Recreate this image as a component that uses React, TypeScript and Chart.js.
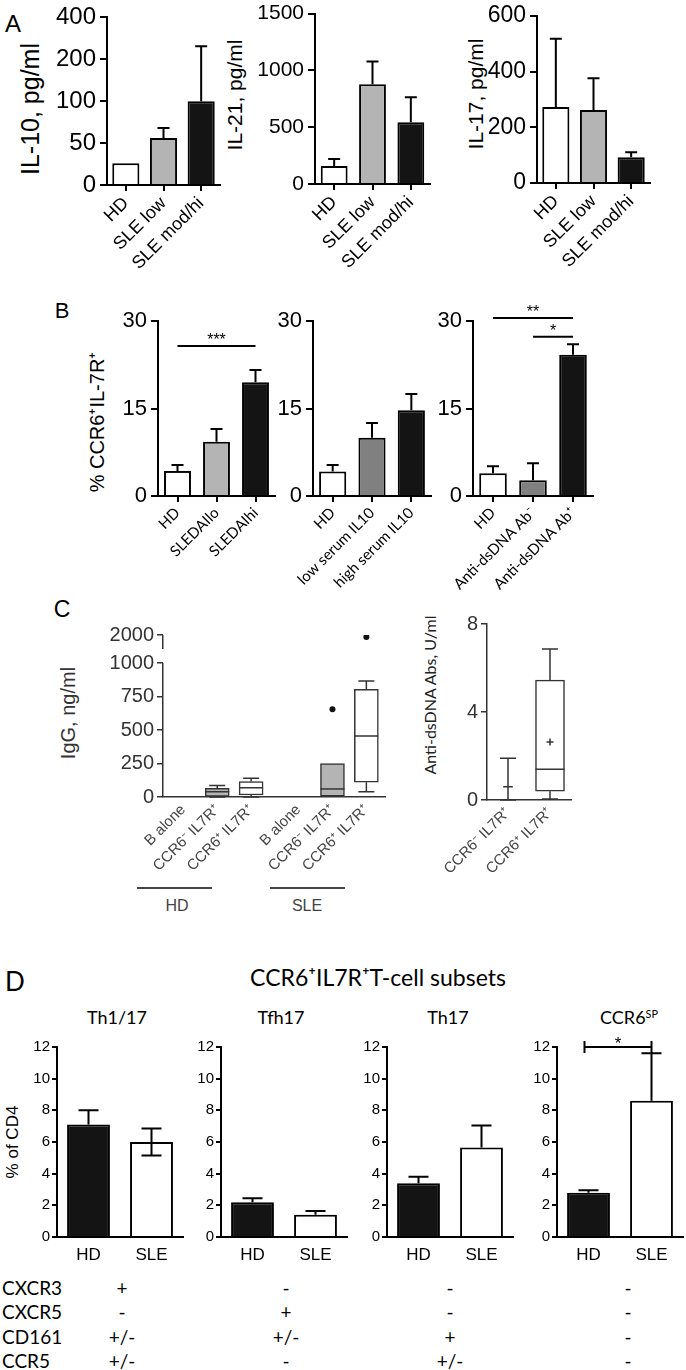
import React, { useEffect, useRef } from 'react';
import { Chart, registerables } from 'chart.js';

Chart.register(...registerables);

const ARIAL = '"Liberation Sans", Arial, Helvetica, sans-serif';
const CALIBRI = 'Lato, "Noto Sans", sans-serif';
Chart.defaults.font.family = ARIAL;
Chart.defaults.color = '#000';

// ---------------- DATA ----------------
// Panel A (serum cytokines)
const A_GROUPS = ['HD', 'SLE low', 'SLE mod/hi'];
const IL10_TICKS = [0, 50, 100, 200, 400];
const IL10_MEAN = [26, 56, 100];
const IL10_UPPER = [null, 68, 262];
const IL21_TICKS = [0, 500, 1000, 1500];
const IL21_MEAN = [158, 877, 544];
const IL21_UPPER = [219, 1079, 763];
const IL17_TICKS = [0, 200, 400, 600];
const IL17_MEAN = [273, 262, 92];
const IL17_UPPER = [518, 376, 110];

// Panel B (% CCR6+IL-7R+)
const B_TICKS = [0, 15, 30];
const SLEDAI_GROUPS = ['HD', 'SLEDAIlo', 'SLEDAIhi'];
const SLEDAI_MEAN = [4.3, 9.3, 19.5];
const SLEDAI_UPPER = [5.3, 11.5, 21.6];
const SERUM_GROUPS = ['HD', 'low serum IL10', 'high serum IL10'];
const SERUM_MEAN = [4.2, 10.0, 14.7];
const SERUM_UPPER = [5.3, 12.5, 17.5];
const DSDNA_GROUPS = ['HD', 'Anti-dsDNA Ab⁻', 'Anti-dsDNA Ab⁺'];
const DSDNA_MEAN = [3.9, 2.7, 24.2];
const DSDNA_UPPER = [5.1, 5.6, 26.0];

// Panel C (box plots)
const IGG_GROUPS = ['B alone', 'CCR6⁻ IL7R⁺', 'CCR6⁺ IL7R⁺', 'B alone', 'CCR6⁻ IL7R⁺', 'CCR6⁺ IL7R⁺'];
const IGG_TICKS = [0, 250, 500, 750, 1000, 2000];
const IGG_MIN = [null, 0, 0, null, 0, 40];
const IGG_Q1 = [null, 5, 15, null, 0, 110];
const IGG_MED = [null, 40, 70, null, 60, 455];
const IGG_Q3 = [null, 65, 115, null, 250, 805];
const IGG_MAX = [null, 85, 140, null, 250, 866];
const IGG_OUTLIER_GROUP = [4, 5];
const IGG_OUTLIER_VALUE = [655, 1930];

const DS_GROUPS = ['CCR6⁻ IL7R⁺', 'CCR6⁺ IL7R⁺'];
const DS_TICKS = [0, 4, 8];
const DS_MIN = [0, 0.05];
const DS_Q1 = [0.6, 0.4];
const DS_MED = [0.6, 1.4];
const DS_Q3 = [0.6, 5.45];
const DS_MAX = [1.9, 6.86];
const DS_MEAN = [null, 2.64];

// Panel D (T-cell subsets, % of CD4)
const D_GROUPS = ['HD', 'SLE'];
const D_TICKS = [0, 2, 4, 6, 8, 10, 12];
const TH117_MEAN = [7.1, 6.0];
const TH117_UPPER = [8.0, 6.85];
const TH117_LOWER = [null, 5.15];
const TFH17_MEAN = [2.2, 1.4];
const TFH17_UPPER = [2.45, 1.65];
const TH17_MEAN = [3.4, 5.65];
const TH17_UPPER = [3.8, 7.05];
const CCR6SP_MEAN = [2.8, 8.6];
const CCR6SP_UPPER = [2.95, 11.6];
const MARKERS = ['CXCR3', 'CXCR5', 'CD161', 'CCR5'];
const TH117_MARKERS = ['+', '-', '+/-', '+/-'];
const TFH17_MARKERS = ['-', '+', '+/-', '-'];
const TH17_MARKERS = ['-', '-', '+', '+/-'];
const CCR6SP_MARKERS = ['-', '-', '-', '-'];

// ---------------- STYLE / LAYOUT ----------------
const WHITE = '#ffffff';
const LIGHT = '#b4b4b4';
const MID = '#808080';
const BLACK = '#141414';
const C1_SLOTS = [0.6, 1.6, 2.6, 4.0, 5.0, 6.0];
const C1_XMAX = 6.55;
const IGG_BREAK = 0.21;

function segPos(ticks: number[], v: number) {
  for (let i = 0; i < ticks.length - 1; i++) {
    if (v <= ticks[i + 1]) return i + (v - ticks[i]) / (ticks[i + 1] - ticks[i]);
  }
  return ticks.length - 1;
}
function iggPos(v: number) {
  return v <= 1000 ? v : 1000 + (v - 1000) * IGG_BREAK;
}

// ---------------- PLUGINS ----------------
const errorBars = {
  id: 'errorBars',
  afterDatasetsDraw(chart: any) {
    const { ctx } = chart;
    chart.data.datasets.forEach((ds: any, di: number) => {
      if (!ds.upper && !ds.lower) return;
      const meta = chart.getDatasetMeta(di);
      const ys = chart.scales[meta.yAxisID];
      ctx.save();
      ctx.strokeStyle = '#000';
      ctx.lineWidth = ds.errWidth || 2;
      meta.data.forEach((el: any, i: number) => {
        [ds.upper && ds.upper[i], ds.lower && ds.lower[i]].forEach((v: any) => {
          if (v == null) return;
          const y1 = ys.getPixelForValue(v);
          const c = (ds.capWidth || 12) / 2;
          ctx.beginPath();
          ctx.moveTo(el.x, el.y);
          ctx.lineTo(el.x, y1);
          ctx.moveTo(el.x - c, y1);
          ctx.lineTo(el.x + c, y1);
          ctx.stroke();
        });
      });
      ctx.restore();
    });
  },
};

const boxWhiskers = {
  id: 'boxWhiskers',
  afterDatasetsDraw(chart: any) {
    const { ctx } = chart;
    chart.data.datasets.forEach((ds: any, di: number) => {
      if (!ds.box) return;
      const meta = chart.getDatasetMeta(di);
      const ys = chart.scales[meta.yAxisID];
      ctx.save();
      ctx.strokeStyle = ds.borderColor;
      ctx.lineWidth = ds.borderWidth;
      meta.data.forEach((el: any, i: number) => {
        const b = ds.box[i];
        if (!b) return;
        const c = ds.capWidth / 2;
        const pq1 = ys.getPixelForValue(b.q1);
        const pq3 = ys.getPixelForValue(b.q3);
        const hw = Math.abs(pq1 - pq3) < 1 ? c * 0.6 : el.width / 2;
        const pmin = ys.getPixelForValue(b.min);
        const pmax = ys.getPixelForValue(b.max);
        const pmed = ys.getPixelForValue(b.med);
        ctx.beginPath();
        ctx.moveTo(el.x - hw, pmed);
        ctx.lineTo(el.x + hw, pmed);
        if (pmax < pq3 - 0.5) {
          ctx.moveTo(el.x, pq3);
          ctx.lineTo(el.x, pmax);
          ctx.moveTo(el.x - c, pmax);
          ctx.lineTo(el.x + c, pmax);
        }
        if (pmin > pq1 + 0.5) {
          ctx.moveTo(el.x, pq1);
          ctx.lineTo(el.x, pmin);
          ctx.moveTo(el.x - c, pmin);
          ctx.lineTo(el.x + c, pmin);
        }
        if (b.mean != null) {
          const pm = ys.getPixelForValue(b.mean);
          ctx.moveTo(el.x - 3.5, pm);
          ctx.lineTo(el.x + 3.5, pm);
          ctx.moveTo(el.x, pm - 3.5);
          ctx.lineTo(el.x, pm + 3.5);
        }
        ctx.stroke();
      });
      ctx.restore();
    });
  },
};

const sigLines = {
  id: 'sigLines',
  afterDraw(chart: any, _a: any, opts: any) {
    const items = opts && opts.items;
    if (!items || !items.length) return;
    const { ctx } = chart;
    const xs = chart.scales.x;
    const ys = chart.scales.y;
    ctx.save();
    ctx.strokeStyle = '#000';
    ctx.fillStyle = '#000';
    ctx.lineWidth = opts.width || 2;
    ctx.font = `${opts.fontSize || 16}px ${ARIAL}`;
    ctx.textAlign = 'center';
    ctx.textBaseline = 'alphabetic';
    items.forEach((it: any) => {
      const x1 = xs.getPixelForValue(it.from) + (it.dx1 || 0);
      const x2 = xs.getPixelForValue(it.to) + (it.dx2 || 0);
      const y = ys.getPixelForValue(it.y);
      ctx.beginPath();
      ctx.moveTo(x1, y);
      ctx.lineTo(x2, y);
      if (it.ends) {
        ctx.moveTo(x1, y - it.ends);
        ctx.lineTo(x1, y + it.ends);
        ctx.moveTo(x2, y - it.ends);
        ctx.lineTo(x2, y + it.ends);
      }
      ctx.stroke();
      ctx.fillText(it.text, (x1 + x2) / 2, y + (it.textDy || 0));
    });
    ctx.restore();
  },
};

const axisBreak = {
  id: 'axisBreak',
  afterDraw(chart: any, _a: any, opts: any) {
    if (!opts || !opts.segments) return;
    const { ctx, chartArea } = chart;
    const ys = chart.scales.y;
    ctx.save();
    ctx.strokeStyle = opts.color || '#000';
    ctx.lineWidth = opts.width || 1.5;
    const x = Math.round(chartArea.left) - 0.25;
    opts.segments.forEach((s: number[]) => {
      ctx.beginPath();
      ctx.moveTo(x, ys.getPixelForValue(s[0]));
      ctx.lineTo(x, ys.getPixelForValue(s[1]));
      ctx.stroke();
    });
    ctx.restore();
  },
};

Chart.register(errorBars, boxWhiskers, sigLines, axisBreak);

// ---------------- CONFIG BUILDERS ----------------
type Place = { l: number; t: number; r: number; b: number; yW: number; xH: number; padT: number; padR: number };

function canvasBox(p: Place) {
  const left = p.l - p.yW;
  const top = p.t - p.padT;
  return { left, top, width: p.r + p.padR - left, height: p.b + p.xH - top };
}

function baseOptions(p: Place) {
  return {
    responsive: false,
    maintainAspectRatio: false,
    animation: false,
    events: [],
    layout: { padding: { top: p.padT, right: p.padR, left: 0, bottom: 0 } },
  };
}

function barConfig(p: Place, o: any) {
  return {
    type: 'bar',
    data: {
      labels: o.labels,
      datasets: [
        {
          data: o.values,
          backgroundColor: o.colors,
          borderColor: '#000',
          borderWidth: o.lw,
          barPercentage: o.barPct,
          categoryPercentage: 1,
          upper: o.upper,
          lower: o.lower,
          capWidth: o.cap,
          errWidth: o.lw,
        },
      ],
    },
    options: {
      ...baseOptions(p),
      plugins: {
        legend: { display: false },
        tooltip: { enabled: false },
        sigLines: { items: o.sig || [], width: o.lw, fontSize: o.sigFont || 16 },
      },
      scales: {
        x: {
          type: 'category',
          offset: true,
          z: 1,
          grid: {
            display: o.xTickLen > 0,
            drawOnChartArea: false,
            drawTicks: o.xTickLen > 0,
            offset: false,
            tickLength: o.xTickLen,
            color: '#000',
            lineWidth: o.lw,
          },
          border: { display: true, color: '#000', width: o.lw },
          ticks: {
            autoSkip: false,
            minRotation: o.rotation,
            maxRotation: o.rotation,
            padding: o.xTickPad,
            color: '#000',
            font: { family: o.xFamily || ARIAL, size: o.xFont },
          },
          afterFit: (s: any) => {
            s.height = p.xH;
          },
        },
        y: {
          type: 'linear',
          min: o.min,
          max: o.max,
          z: 1,
          grid: { drawOnChartArea: false, tickLength: o.yTickLen, color: '#000', lineWidth: o.lw },
          border: { display: true, color: '#000', width: o.lw },
          ticks: {
            padding: o.yTickPad,
            color: '#000',
            font: { family: ARIAL, size: o.yFont },
            callback: (v: any, i: number) => (o.tickLabels ? o.tickLabels[i] : String(v)),
          },
          afterBuildTicks: (s: any) => {
            s.ticks = o.ticks.map((v: number) => ({ value: v }));
          },
          afterFit: (s: any) => {
            s.width = p.yW;
          },
        },
      },
    },
  };
}

function boxScales(p: Place, o: any) {
  return {
    x: o.x,
    y: {
      type: 'linear',
      min: o.min,
      max: o.max,
      z: 1,
      grid: { drawOnChartArea: false, tickLength: 6, color: '#333', lineWidth: 1.5 },
      border: { display: o.border, color: '#333', width: 1.5 },
      ticks: {
        padding: 3,
        color: '#333',
        font: { family: ARIAL, size: 20 },
        callback: (v: any, i: number) => o.tickLabels[i],
      },
      afterBuildTicks: (s: any) => {
        s.ticks = o.ticks.map((v: number) => ({ value: v }));
      },
      afterFit: (s: any) => {
        s.width = p.yW;
      },
    },
  };
}

// ---------------- PLACEMENTS ----------------
const P_A1: Place = { l: 107, t: 15, r: 220, b: 185, yW: 70, xH: 90, padT: 16, padR: 10 };
const P_A2: Place = { l: 315, t: 13, r: 430, b: 184, yW: 70, xH: 90, padT: 16, padR: 10 };
const P_A3: Place = { l: 537, t: 14, r: 650, b: 183, yW: 70, xH: 90, padT: 16, padR: 10 };
const P_B1: Place = { l: 158, t: 321, r: 275, b: 496, yW: 75, xH: 110, padT: 30, padR: 10 };
const P_B2: Place = { l: 313, t: 321, r: 431, b: 496, yW: 75, xH: 110, padT: 30, padR: 10 };
const P_B3: Place = { l: 473, t: 321, r: 593, b: 496, yW: 75, xH: 110, padT: 30, padR: 10 };
const P_C1: Place = { l: 163, t: 635, r: 385, b: 797, yW: 75, xH: 85, padT: 20, padR: 10 };
const P_C2: Place = { l: 487, t: 624, r: 571, b: 800, yW: 60, xH: 85, padT: 20, padR: 10 };
const P_D1: Place = { l: 57, t: 1047, r: 183, b: 1237, yW: 45, xH: 40, padT: 25, padR: 3 };
const P_D2: Place = { l: 221, t: 1047, r: 347, b: 1237, yW: 45, xH: 40, padT: 25, padR: 3 };
const P_D3: Place = { l: 387, t: 1047, r: 513, b: 1237, yW: 45, xH: 40, padT: 25, padR: 3 };
const P_D4: Place = { l: 557, t: 1047, r: 683, b: 1237, yW: 45, xH: 40, padT: 25, padR: 3 };

const A_STYLE = { lw: 2, cap: 12, rotation: 45, xFont: 18, xTickLen: 6, xTickPad: 2, yTickLen: 7, yTickPad: 4 };
const B_STYLE = { lw: 2, cap: 12, rotation: 45, xFont: 15, xFamily: CALIBRI, xTickLen: 6, xTickPad: 2, yTickLen: 7, yTickPad: 4, yFont: 22, min: 0, max: 30, ticks: B_TICKS, barPct: 0.69 };
const D_STYLE = { lw: 2, cap: 20, rotation: 0, xFont: 17, xTickLen: 0, xTickPad: 8, yTickLen: 5, yTickPad: 2, yFont: 15, min: 0, max: 12, ticks: D_TICKS, barPct: 0.68, labels: D_GROUPS, colors: [BLACK, WHITE] };

const cfgA1 = () =>
  barConfig(P_A1, {
    ...A_STYLE,
    labels: A_GROUPS,
    values: IL10_MEAN.map((v) => segPos(IL10_TICKS, v)),
    upper: IL10_UPPER.map((v) => (v == null ? null : segPos(IL10_TICKS, v))),
    colors: [WHITE, LIGHT, BLACK],
    min: 0,
    max: IL10_TICKS.length - 1,
    ticks: IL10_TICKS.map((_, i) => i),
    tickLabels: IL10_TICKS.map(String),
    yFont: 24,
    barPct: 0.72,
  });
const cfgA2 = () =>
  barConfig(P_A2, {
    ...A_STYLE,
    labels: A_GROUPS,
    values: IL21_MEAN,
    upper: IL21_UPPER,
    colors: [WHITE, LIGHT, BLACK],
    min: 0,
    max: 1500,
    ticks: IL21_TICKS,
    yFont: 21,
    barPct: 0.7,
  });
const cfgA3 = () =>
  barConfig(P_A3, {
    ...A_STYLE,
    labels: A_GROUPS,
    values: IL17_MEAN,
    upper: IL17_UPPER,
    colors: [WHITE, LIGHT, BLACK],
    min: 0,
    max: 600,
    ticks: IL17_TICKS,
    yFont: 23,
    barPct: 0.72,
  });

const cfgB1 = () =>
  barConfig(P_B1, {
    ...B_STYLE,
    labels: SLEDAI_GROUPS,
    values: SLEDAI_MEAN,
    upper: SLEDAI_UPPER,
    colors: [WHITE, LIGHT, BLACK],
    sig: [{ from: 0, to: 2, y: 25.7, text: '***', textDy: -1 }],
  });
const cfgB2 = () =>
  barConfig(P_B2, {
    ...B_STYLE,
    labels: SERUM_GROUPS,
    values: SERUM_MEAN,
    upper: SERUM_UPPER,
    colors: [WHITE, MID, BLACK],
  });
const cfgB3 = () =>
  barConfig(P_B3, {
    ...B_STYLE,
    labels: DSDNA_GROUPS,
    values: DSDNA_MEAN,
    upper: DSDNA_UPPER,
    colors: [WHITE, MID, BLACK],
    sig: [
      { from: 0, to: 2, y: 30.5, text: '**', textDy: -1 },
      { from: 1, to: 2, y: 27.3, text: '*', textDy: -1 },
    ],
  });

const cfgD1 = () => barConfig(P_D1, { ...D_STYLE, values: TH117_MEAN, upper: TH117_UPPER, lower: TH117_LOWER });
const cfgD2 = () => barConfig(P_D2, { ...D_STYLE, values: TFH17_MEAN, upper: TFH17_UPPER });
const cfgD3 = () => barConfig(P_D3, { ...D_STYLE, values: TH17_MEAN, upper: TH17_UPPER });
const cfgD4 = () =>
  barConfig(P_D4, {
    ...D_STYLE,
    values: CCR6SP_MEAN,
    upper: CCR6SP_UPPER,
    sigFont: 17,
    sig: [{ from: 0, to: 1, y: 12, text: '*', ends: 6, textDy: 2, dx1: -4 }],
  });

const cfgC1 = () => {
  const idx = IGG_GROUPS.map((_, i) => i).filter((i) => IGG_Q1[i] != null);
  return {
    type: 'bar',
    data: {
      datasets: [
        {
          type: 'bar',
          data: idx.map((i) => ({ x: C1_SLOTS[i], y: [iggPos(IGG_Q1[i] as number), iggPos(IGG_Q3[i] as number)] })),
          backgroundColor: idx.map((i) => (IGG_GROUPS[i].startsWith('CCR6⁻') ? LIGHT : WHITE)),
          borderColor: '#333',
          borderWidth: 1.5,
          borderSkipped: false,
          barThickness: 24,
          capWidth: 16,
          box: idx.map((i) => ({
            min: iggPos(IGG_MIN[i] as number),
            q1: iggPos(IGG_Q1[i] as number),
            med: iggPos(IGG_MED[i] as number),
            q3: iggPos(IGG_Q3[i] as number),
            max: iggPos(IGG_MAX[i] as number),
          })),
        },
        {
          type: 'scatter',
          data: IGG_OUTLIER_GROUP.map((g, k) => ({ x: C1_SLOTS[g], y: iggPos(IGG_OUTLIER_VALUE[k]) })),
          pointRadius: 3,
          backgroundColor: '#111',
          borderColor: '#111',
          borderWidth: 0,
        },
      ],
    },
    options: {
      ...baseOptions(P_C1),
      plugins: {
        legend: { display: false },
        tooltip: { enabled: false },
        axisBreak: { segments: [[0, 1000], [1105, iggPos(2000)]], color: '#333', width: 1.5 },
      },
      scales: boxScales(P_C1, {
        min: 0,
        max: iggPos(2000),
        ticks: IGG_TICKS.map(iggPos),
        tickLabels: IGG_TICKS.map(String),
        border: false,
        x: {
          type: 'linear',
          min: 0,
          max: C1_XMAX,
          offset: false,
          z: 1,
          grid: { display: false, drawTicks: false, offset: false },
          border: { display: true, color: '#333', width: 1.5 },
          ticks: {
            autoSkip: false,
            minRotation: 45,
            maxRotation: 45,
            padding: 4,
            color: '#444',
            font: { family: ARIAL, size: 15 },
            callback: (_v: any, i: number) => IGG_GROUPS[i],
          },
          afterBuildTicks: (s: any) => {
            s.ticks = C1_SLOTS.map((v) => ({ value: v }));
          },
          afterFit: (s: any) => {
            s.height = P_C1.xH;
          },
        },
      }),
    },
  };
};

const cfgC2 = () => ({
  type: 'bar',
  data: {
    labels: DS_GROUPS,
    datasets: [
      {
        data: DS_GROUPS.map((_, i) => [DS_Q1[i], DS_Q3[i]]),
        backgroundColor: WHITE,
        borderColor: '#333',
        borderWidth: 1.5,
        borderSkipped: false,
        barThickness: 29,
        capWidth: 16,
        box: DS_GROUPS.map((_, i) => ({ min: DS_MIN[i], q1: DS_Q1[i], med: DS_MED[i], q3: DS_Q3[i], max: DS_MAX[i], mean: DS_MEAN[i] })),
      },
    ],
  },
  options: {
    ...baseOptions(P_C2),
    plugins: { legend: { display: false }, tooltip: { enabled: false } },
    scales: boxScales(P_C2, {
      min: 0,
      max: 8,
      ticks: DS_TICKS,
      tickLabels: DS_TICKS.map(String),
      border: true,
      x: {
        type: 'category',
        offset: true,
        z: 1,
        grid: { display: false, drawTicks: false, offset: false },
        border: { display: true, color: '#333', width: 1.5 },
        ticks: {
          autoSkip: false,
          minRotation: 45,
          maxRotation: 45,
          padding: 4,
          color: '#444',
          font: { family: ARIAL, size: 15 },
        },
        afterFit: (s: any) => {
          s.height = P_C2.xH;
        },
      },
    }),
  },
});

// ---------------- COMPONENTS ----------------
function ChartCanvas({ place, config }: { place: Place; config: () => any }) {
  const ref = useRef<HTMLCanvasElement>(null);
  const box = canvasBox(place);
  useEffect(() => {
    const chart = new Chart(ref.current as HTMLCanvasElement, config());
    return () => chart.destroy();
  }, []);
  return (
    <div style={{ position: 'absolute', left: box.left, top: box.top, width: box.width, height: box.height }}>
      <canvas ref={ref} width={box.width} height={box.height} style={{ width: box.width, height: box.height, display: 'block' }} />
    </div>
  );
}

function Txt({ x, y, size, family = ARIAL, rot = 0, color = '#000', children }: any) {
  return (
    <div
      style={{
        position: 'absolute',
        left: x,
        top: y,
        transform: `translate(-50%, -50%) rotate(${rot}deg)`,
        fontSize: size,
        fontFamily: family,
        lineHeight: 1,
        whiteSpace: 'nowrap',
        color,
      }}
    >
      {children}
    </div>
  );
}

function HLine({ x1, x2, y, color = '#444', w = 1.5 }: any) {
  return <div style={{ position: 'absolute', left: x1, top: y - w / 2, width: x2 - x1, height: w, background: color }} />;
}

const TABLE_COLS = [TH117_MARKERS, TFH17_MARKERS, TH17_MARKERS, CCR6SP_MARKERS];
const TABLE_COL_X = [122, 286, 450, 628];
const TABLE_ROW_Y = [1287, 1311, 1336, 1360];

export default function App() {
  return (
    <div style={{ position: 'absolute', left: 0, top: 0, width: 686, height: 1370, background: '#fff', overflow: 'hidden' }}>
      {/* panel letters */}
      <Txt x={13} y={24} size={24}>A</Txt>
      <Txt x={62} y={311} size={22}>B</Txt>
      <Txt x={62} y={609} size={23}>C</Txt>
      <Txt x={15} y={981} size={26} family={CALIBRI}>D</Txt>

      {/* axis titles */}
      <Txt x={30} y={109} size={25} rot={-90}>IL-10, pg/ml</Txt>
      <Txt x={234} y={95} size={21} rot={-90}>IL-21, pg/ml</Txt>
      <Txt x={475} y={94} size={21} rot={-90}>IL-17, pg/ml</Txt>
      <Txt x={97} y={422} size={20} rot={-90}>% CCR6⁺IL-7R⁺</Txt>
      <Txt x={68} y={713} size={20} rot={-90} color="#333">IgG, ng/ml</Txt>
      <Txt x={430} y={695} size={16} rot={-90} family={CALIBRI} color="#222">Anti-dsDNA Abs, U/ml</Txt>
      <Txt x={12} y={1142} size={17} rot={-90}>% of CD4</Txt>

      {/* panel C group marks */}
      <HLine x1={137} x2={212} y={888} />
      <HLine x1={270} x2={345} y={888} />
      <Txt x={177} y={906} size={16} color="#444">HD</Txt>
      <Txt x={307} y={906} size={16} color="#444">SLE</Txt>

      {/* panel D titles */}
      <Txt x={378} y={977} size={23} family={CALIBRI}>CCR6⁺IL7R⁺T-cell subsets</Txt>
      <Txt x={117} y={1017} size={18} family={CALIBRI}>Th1/17</Txt>
      <Txt x={281} y={1017} size={18} family={CALIBRI}>Tfh17</Txt>
      <Txt x={448} y={1017} size={18} family={CALIBRI}>Th17</Txt>
      <Txt x={629} y={1017} size={18} family={CALIBRI}>
        CCR6<span style={{ fontSize: '0.6em', verticalAlign: '0.55em' }}>SP</span>
      </Txt>

      {/* marker table */}
      {MARKERS.map((m, r) => (
        <div
          key={m}
          style={{ position: 'absolute', left: 2, top: TABLE_ROW_Y[r], transform: 'translateY(-50%)', fontSize: 19, fontFamily: CALIBRI, lineHeight: 1 }}
        >
          {m}
        </div>
      ))}
      {TABLE_COLS.map((col, c) =>
        col.map((v, r) => (
          <Txt key={`${c}-${r}`} x={TABLE_COL_X[c]} y={TABLE_ROW_Y[r]} size={19} family={CALIBRI}>
            {v}
          </Txt>
        ))
      )}

      {/* charts */}
      <ChartCanvas place={P_A1} config={cfgA1} />
      <ChartCanvas place={P_A2} config={cfgA2} />
      <ChartCanvas place={P_A3} config={cfgA3} />
      <ChartCanvas place={P_B1} config={cfgB1} />
      <ChartCanvas place={P_B2} config={cfgB2} />
      <ChartCanvas place={P_B3} config={cfgB3} />
      <ChartCanvas place={P_C1} config={cfgC1} />
      <ChartCanvas place={P_C2} config={cfgC2} />
      <ChartCanvas place={P_D1} config={cfgD1} />
      <ChartCanvas place={P_D2} config={cfgD2} />
      <ChartCanvas place={P_D3} config={cfgD3} />
      <ChartCanvas place={P_D4} config={cfgD4} />
    </div>
  );
}
